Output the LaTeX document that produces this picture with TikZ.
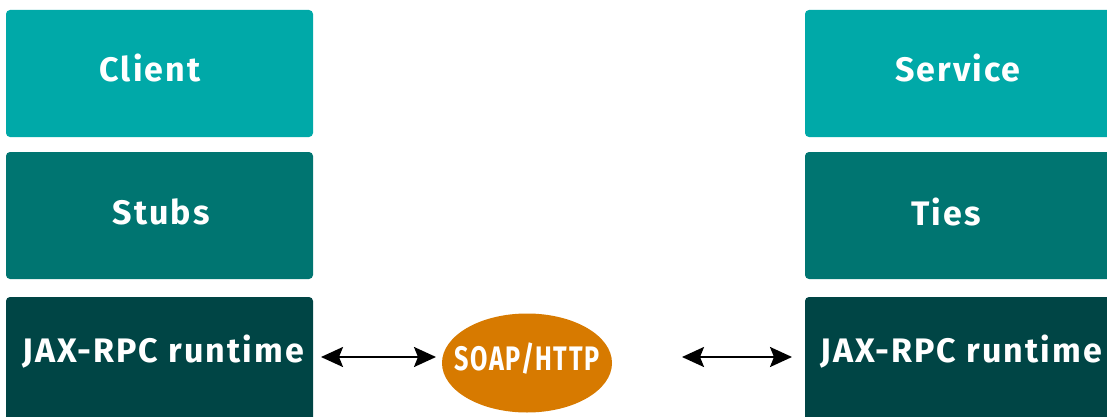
\documentclass[tikz,border=0pt]{standalone}
\usepackage{fontspec}
\setmainfont{Fira Sans}[LetterSpace=6]
\usetikzlibrary{shapes.geometric,arrows.meta}
\definecolor{tealA}{HTML}{00A9A8}
\definecolor{tealB}{HTML}{007571}
\definecolor{tealC}{HTML}{004545}
\definecolor{soapor}{HTML}{D77A00}
\tikzset{
  layer/.style={rounded corners=4pt, inner sep=0pt},
  lbl/.style={text=white, font=\fontsize{34}{36}\selectfont\bfseries, inner sep=0pt},
  tipx/.tip={Stealth[length=22pt,width=20pt,inset=4pt]},
  conn/.style={line width=2.2pt, tipx-tipx}
}
\begin{document}
\begin{tikzpicture}[x=1pt,y=-1pt]
\useasboundingbox (0,0) rectangle (1107,417);
% left column
\fill[tealA,layer] (6,10) rectangle (313,137);
\fill[tealB,layer] (6,152) rectangle (313,279);
\fill[tealC,layer] (6,297) rectangle (313,425);
% right column
\fill[tealA,layer] (805,10) rectangle (1115,137);
\fill[tealB,layer] (805,152) rectangle (1115,279);
\fill[tealC,layer] (805,297) rectangle (1115,425);
\node[lbl] (client) at (150,68) {Client};
\node[lbl] (stubs) at (161,212) {Stubs};
\node[lbl] (jaxl) at (163,352) {JAX-RPC runtime};
\node[lbl] (service) at (958,68) {Service};
\node[lbl] (ties) at (946,212) {Ties};
\node[lbl] (jaxr) at (961,352) {JAX-RPC runtime};
\node[ellipse, fill=soapor, minimum width=170pt, minimum height=99pt, inner sep=0pt] (soap) at (527,363) {};
\node[lbl] (soapt) at (527,359) {\scalebox{0.74}[1]{SOAP/HTTP}};
\coordinate (la) at (321,357);
\coordinate (lb) at (436,357);
\coordinate (ra) at (682,357);
\coordinate (rb) at (792,357);
\draw[conn] (la) -- (lb);
\draw[conn] (ra) -- (rb);
\end{tikzpicture}
\end{document}
